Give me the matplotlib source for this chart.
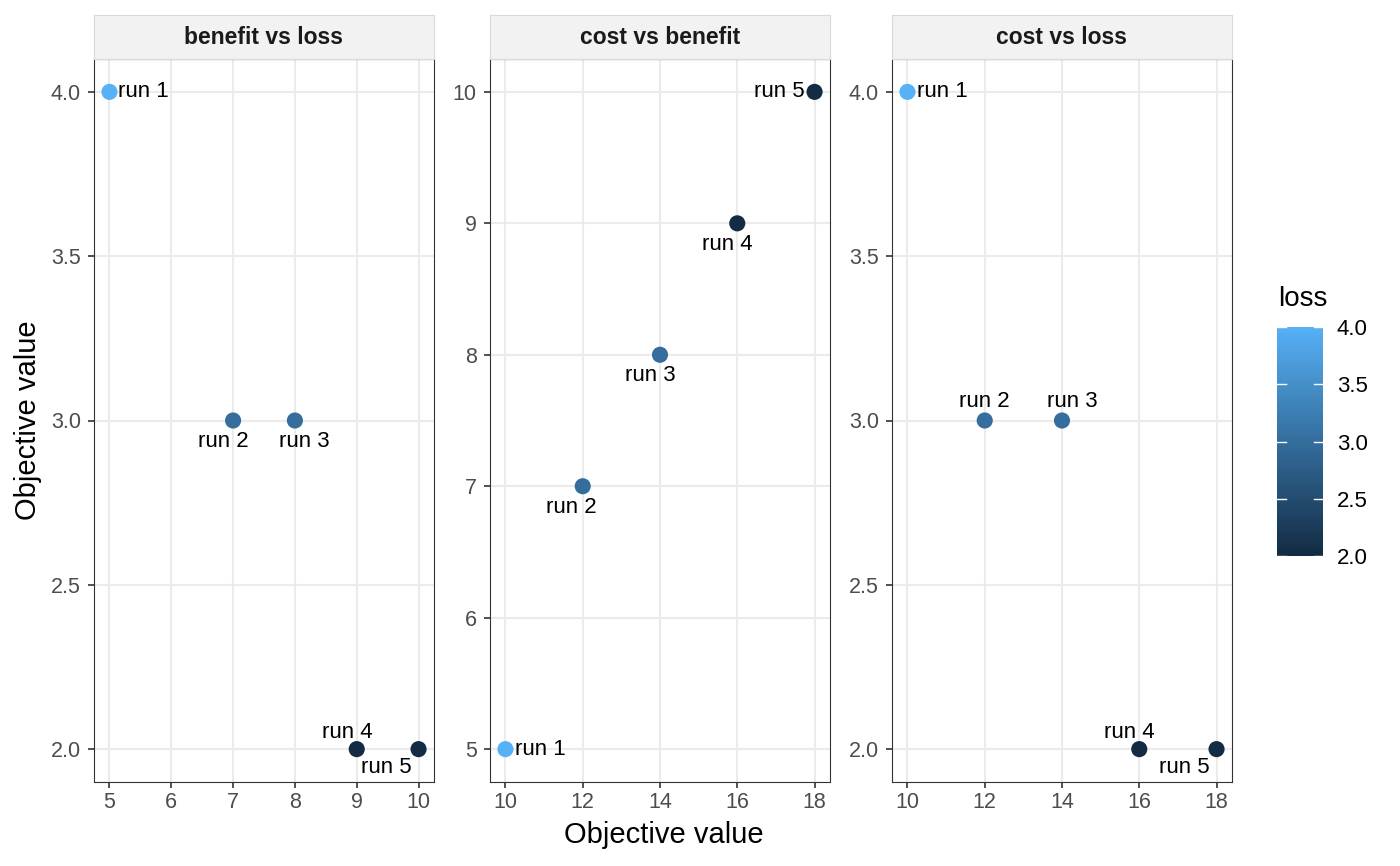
import numpy as np
import matplotlib
matplotlib.use("Agg")
import matplotlib.pyplot as plt
from matplotlib.colors import LinearSegmentedColormap, Normalize

plt.rcParams['font.family'] = ['Liberation Sans', 'DejaVu Sans']

# data
runs = ["run 1", "run 2", "run 3", "run 4", "run 5"]
cost = [10, 12, 14, 16, 18]
benefit = [5, 7, 8, 9, 10]
loss = [4, 3, 3, 2, 2]

panels = [
    ("benefit vs loss", benefit, loss),
    ("cost vs benefit", cost, benefit),
    ("cost vs loss", cost, loss),
]
# label offsets in pixels (dx, dy, ha)
label_offsets = [
    [(9, 0, 'left'), (-10, -21, 'center'), (9, -21, 'center'), (-9, 17, 'center'), (-32, -18, 'center')],
    [(10, 0, 'left'), (-11, -21, 'center'), (-10, -21, 'center'), (-10, -21, 'center'), (-10, 0, 'right')],
    [(10, 0, 'left'), (0, 19, 'center'), (10, 19, 'center'), (-10, 17, 'center'), (-32, -18, 'center')],
]

cmap = LinearSegmentedColormap.from_list("gg", ["#132B43", "#56B1F7"])
norm = Normalize(vmin=min(loss), vmax=max(loss))

W, H = 1400, 866
fig = plt.figure(figsize=(W / 100, H / 100), dpi=100)

def px_axes(x0, y0, x1, y1):
    return fig.add_axes([x0 / W, (H - y1) / H, (x1 - x0) / W, (y1 - y0) / H])

lefts = [94, 490, 892]
pw = 340
ptop, pbot = 59, 782
stop = 15

for i, (title, xs, ys) in enumerate(panels):
    ax = px_axes(lefts[i], ptop, lefts[i] + pw, pbot)
    ax.scatter(xs, ys, c=loss, cmap=cmap, norm=norm, s=135, zorder=3, linewidths=0)
    xr = max(xs) - min(xs)
    yr = max(ys) - min(ys)
    ax.set_xlim(min(xs) - 0.05 * xr, max(xs) + 0.05 * xr)
    ax.set_ylim(min(ys) - 0.05 * yr, max(ys) + 0.05 * yr)
    if xr == 5:
        ax.set_xticks(np.arange(min(xs), max(xs) + 1, 1))
    else:
        ax.set_xticks(np.arange(min(xs), max(xs) + 1, 2))
    if yr == 2:
        yt = np.arange(2.0, 4.01, 0.5)
        ax.set_yticks(yt)
        ax.set_yticklabels(["%.1f" % v for v in yt])
    else:
        ax.set_yticks(np.arange(min(ys), max(ys) + 1, 1))
    ax.grid(True, color="#EBEBEB", linewidth=1.5, zorder=0)
    ax.set_axisbelow(True)
    for sp in ax.spines.values():
        sp.set_color("#333333")
        sp.set_linewidth(0.8)
    ax.tick_params(colors="#333333", labelcolor="#4D4D4D", labelsize=15.5, length=4.5, width=1.2)
    ax.tick_params(axis='x', pad=3)
    ax.tick_params(axis='y', pad=5)
    for j, r in enumerate(runs):
        dx, dy, ha = label_offsets[i][j]
        ax.annotate(r, (xs[j], ys[j]), xytext=(dx, dy), textcoords='offset pixels',
                    ha=ha, va='center', fontsize=16, color='black', zorder=4)
    # strip
    sax = px_axes(lefts[i], stop, lefts[i] + pw, ptop)
    sax.set_facecolor("#F2F2F2")
    sax.set_xticks([])
    sax.set_yticks([])
    for sp in sax.spines.values():
        sp.set_color("#D9D9D9")
        sp.set_linewidth(0.8)
    sax.text(0.5, 0.5, title, ha='center', va='center', fontsize=16.5, fontweight='bold',
             color="#1A1A1A", transform=sax.transAxes)

fig.text(664 / W, 1 - 835 / H, "Objective value", ha='center', va='center', fontsize=21)
fig.text(28 / W, 1 - 420 / H, "Objective value", ha='center', va='center', fontsize=21, rotation=90)

# colorbar
cax = px_axes(1277, 327, 1323, 556)
grad = np.linspace(min(loss), max(loss), 256).reshape(-1, 1)
cax.imshow(grad, cmap=cmap, norm=norm, aspect='auto', origin='lower',
           extent=[0, 1, min(loss), max(loss)])
cax.set_xlim(0, 1)
cax.set_ylim(min(loss), max(loss))
cbt = np.arange(2.0, 4.01, 0.5)
for t in cbt:
    cax.plot([0, 0.2], [t, t], color='white', lw=1)
    cax.plot([0.8, 1], [t, t], color='white', lw=1)
cax.set_xticks([])
cax.yaxis.tick_right()
cax.set_yticks(cbt)
cax.set_yticklabels(["%.1f" % v for v in cbt])
cax.tick_params(length=0, labelsize=16, pad=10, colors='black')
for sp in cax.spines.values():
    sp.set_visible(False)
fig.text(1278 / W, 1 - 299 / H, "loss", ha='left', va='center', fontsize=20)

fig.savefig("out.png", dpi=100)
